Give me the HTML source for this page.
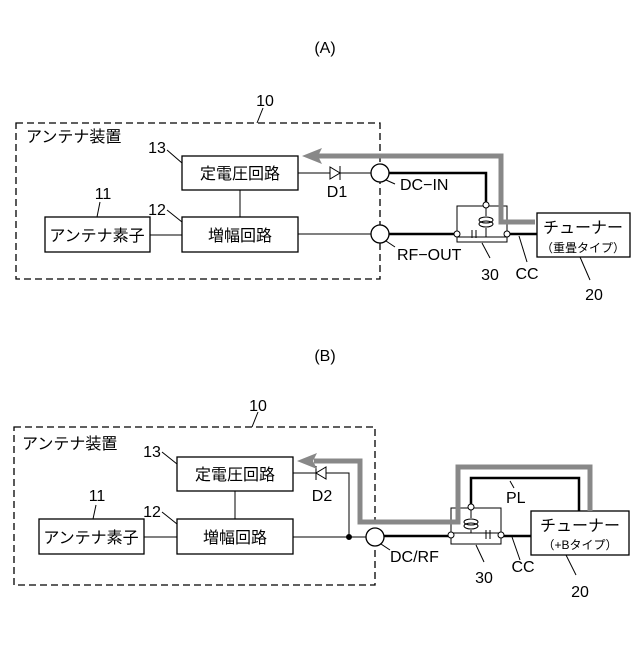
<!DOCTYPE html>
<html><head><meta charset="utf-8"><style>body{margin:0;background:#fff}</style></head><body>
<svg width="640" height="640" viewBox="0 0 640 640" xmlns="http://www.w3.org/2000/svg" font-family="Liberation Sans, Noto Sans CJK JP, sans-serif" fill="none" stroke="#000">
<g font-size="16" fill="#000" stroke="none">
<text x="325" y="53" text-anchor="middle">(A)</text>
<text x="325" y="361" text-anchor="middle">(B)</text>
</g>
<!-- ===== A ===== -->
<rect x="16" y="123" width="364" height="156" stroke-dasharray="7,4" stroke-width="1.3"/>
<line x1="257" y1="123" x2="263" y2="108" stroke-width="1"/>
<rect x="182" y="156" width="116" height="34" stroke-width="1.3"/>
<rect x="182" y="217" width="116" height="35" stroke-width="1.3"/>
<rect x="45" y="217" width="105" height="35" stroke-width="1.3"/>
<line x1="150" y1="235" x2="182" y2="235"/>
<line x1="240" y1="190" x2="240" y2="217"/>
<line x1="167" y1="150" x2="182" y2="163"/>
<line x1="167" y1="210" x2="182" y2="222"/>
<line x1="100" y1="202" x2="97" y2="217"/>
<line x1="298" y1="173" x2="371" y2="173"/>
<polygon points="330,167 330,179 340,173" fill="#fff"/>
<line x1="340" y1="166" x2="340" y2="180"/>
<line x1="298" y1="234" x2="371" y2="234"/>
<circle cx="380" cy="173" r="9" fill="#fff" stroke-width="1.3"/>
<circle cx="380" cy="234" r="9" fill="#fff" stroke-width="1.3"/>
<line x1="386" y1="180" x2="395" y2="184"/>
<line x1="386" y1="241" x2="395" y2="247"/>
<polyline points="389,173 486,173 486,204" stroke-width="2.5"/>
<line x1="389" y1="234" x2="457" y2="234" stroke-width="2.5"/>
<line x1="507" y1="234" x2="537" y2="234" stroke-width="2.5"/>
<rect x="457" y="206" width="50" height="36"/>
<line x1="457" y1="237" x2="507" y2="237"/>
<line x1="486" y1="208" x2="486" y2="216"/>
<ellipse cx="486" cy="220" rx="7" ry="3"/><ellipse cx="486" cy="224" rx="7" ry="3"/>
<line x1="486" y1="228" x2="486" y2="237"/>
<line x1="472" y1="230" x2="472" y2="238"/><line x1="476" y1="230" x2="476" y2="238"/>
<circle cx="486" cy="205" r="3" fill="#fff"/>
<circle cx="457" cy="234" r="3" fill="#fff"/>
<circle cx="507" cy="234" r="3" fill="#fff"/>
<line x1="519" y1="236" x2="527" y2="262"/>
<line x1="482" y1="243" x2="490" y2="258"/>
<rect x="537" y="213" width="93" height="44" stroke-width="1.3"/>
<line x1="580" y1="257" x2="590" y2="280"/>
<polyline points="535,222 501,222 501,156 318,156" stroke="#888" stroke-width="5"/>
<polygon points="302,156 322,148 318,156 322,164" fill="#888" stroke="none"/>
<g font-size="16" fill="#000" stroke="none">
<text x="265" y="106" text-anchor="middle">10</text>
<text x="26" y="142">アンテナ装置</text>
<text x="157" y="153" text-anchor="middle">13</text>
<text x="157" y="215" text-anchor="middle">12</text>
<text x="103" y="199" text-anchor="middle">11</text>
<text x="240" y="179" text-anchor="middle">定電圧回路</text>
<text x="240" y="241" text-anchor="middle">増幅回路</text>
<text x="97" y="241" text-anchor="middle">アンテナ素子</text>
<text x="337" y="197" text-anchor="middle">D1</text>
<text x="400" y="190">DC−IN</text>
<text x="397" y="260">RF−OUT</text>
<text x="490" y="280" text-anchor="middle">30</text>
<text x="527" y="279" text-anchor="middle">CC</text>
<text x="594" y="300" text-anchor="middle">20</text>
<text x="583" y="233" text-anchor="middle">チューナー</text>
<text x="583" y="252" text-anchor="middle" font-size="12">（重畳タイプ）</text>
</g>
<!-- ===== B ===== -->
<rect x="14" y="427" width="361" height="158" stroke-dasharray="7,4" stroke-width="1.3"/>
<line x1="252" y1="427" x2="258" y2="412" stroke-width="1"/>
<rect x="177" y="457" width="116" height="34" stroke-width="1.3"/>
<rect x="177" y="519" width="116" height="35" stroke-width="1.3"/>
<rect x="39" y="519" width="105" height="35" stroke-width="1.3"/>
<line x1="144" y1="537" x2="177" y2="537"/>
<line x1="235" y1="491" x2="235" y2="519"/>
<line x1="162" y1="452" x2="177" y2="464"/>
<line x1="162" y1="512" x2="177" y2="524"/>
<line x1="96" y1="505" x2="93" y2="519"/>
<polyline points="293,473 349,473 349,537"/>
<polygon points="326,467 326,479 316,473" fill="#fff"/>
<line x1="316" y1="466" x2="316" y2="480"/>
<line x1="293" y1="537" x2="366" y2="537"/>
<circle cx="349" cy="537" r="2.5" fill="#000"/>
<circle cx="375" cy="537" r="9" fill="#fff" stroke-width="1.3"/>
<line x1="381" y1="544" x2="390" y2="550"/>
<line x1="384" y1="536" x2="451" y2="536" stroke-width="2.5"/>
<line x1="501" y1="536" x2="531" y2="536" stroke-width="2.5"/>
<rect x="451" y="508" width="50" height="36"/>
<line x1="451" y1="533" x2="501" y2="533"/>
<line x1="471" y1="510" x2="471" y2="518"/>
<ellipse cx="471" cy="522" rx="7" ry="3"/><ellipse cx="471" cy="526" rx="7" ry="3"/>
<line x1="471" y1="530" x2="471" y2="533"/>
<line x1="486" y1="530" x2="486" y2="539"/><line x1="490" y1="530" x2="490" y2="539"/>
<polyline points="471,506 471,478 579,478 579,511" stroke-width="2.5"/>
<circle cx="471" cy="507" r="3" fill="#fff"/>
<circle cx="451" cy="535" r="3" fill="#fff"/>
<circle cx="501" cy="535" r="3" fill="#fff"/>
<line x1="512" y1="537" x2="520" y2="560"/>
<line x1="476" y1="545" x2="484" y2="562"/>
<line x1="510" y1="481" x2="514" y2="488"/>
<rect x="531" y="511" width="98" height="44" stroke-width="1.3"/>
<line x1="566" y1="555" x2="576" y2="575"/>
<polyline points="590,511 590,467 458,467 458,522 360,522 360,461 314,461" stroke="#888" stroke-width="5"/>
<polygon points="297,461 317,453 313,461 317,469" fill="#888" stroke="none"/>
<g font-size="16" fill="#000" stroke="none">
<text x="258" y="411" text-anchor="middle">10</text>
<text x="22" y="449">アンテナ装置</text>
<text x="152" y="457" text-anchor="middle">13</text>
<text x="152" y="517" text-anchor="middle">12</text>
<text x="97" y="501" text-anchor="middle">11</text>
<text x="235" y="480" text-anchor="middle">定電圧回路</text>
<text x="235" y="543" text-anchor="middle">増幅回路</text>
<text x="91" y="543" text-anchor="middle">アンテナ素子</text>
<text x="322" y="501" text-anchor="middle">D2</text>
<text x="390" y="562">DC/RF</text>
<text x="506" y="503">PL</text>
<text x="484" y="583" text-anchor="middle">30</text>
<text x="523" y="572" text-anchor="middle">CC</text>
<text x="580" y="597" text-anchor="middle">20</text>
<text x="580" y="531" text-anchor="middle">チューナー</text>
<text x="580" y="549" text-anchor="middle" font-size="12">（+Bタイプ）</text>
</g>
</svg>
</body></html>
